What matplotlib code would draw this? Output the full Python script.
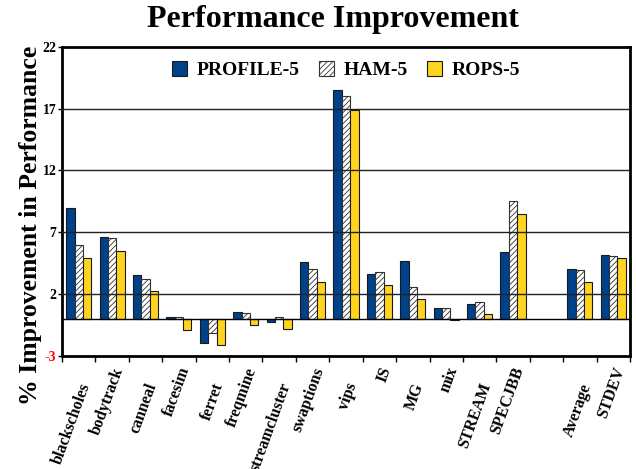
import numpy as np
import matplotlib.pyplot as plt
import matplotlib.transforms as mtransforms
from matplotlib.ticker import FixedLocator

plt.rcParams["font.family"] = "Liberation Serif"
plt.rcParams["font.weight"] = "bold"
plt.rcParams["hatch.linewidth"] = 0.6

CATEGORIES = [
    "blackscholes", "bodytrack", "canneal", "facesim", "ferret", "freqmine",
    "streamcluster", "swaptions", "vips", "IS", "MG", "mix", "STREAM",
    "SPECJBB", "", "Average", "STDEV",
]

PROFILE_5 = [9.0, 6.6, 3.5, 0.1, -1.95, 0.5, -0.25, 4.55, 18.55, 3.65, 4.65,
             0.9, 1.15, 5.4, np.nan, 4.0, 5.15]
HAM_5 = [5.95, 6.5, 3.2, 0.1, -1.2, 0.45, 0.15, 4.0, 18.05, 3.75, 2.6,
         0.9, 1.35, 9.5, np.nan, 3.95, 5.05]
ROPS_5 = [4.9, 5.45, 2.2, -0.9, -2.1, -0.55, -0.85, 2.95, 16.9, 2.7, 1.6,
          -0.1, 0.35, 8.45, np.nan, 2.95, 4.95]

Y_TICKS = [-3, 2, 7, 12, 17, 22]

BLUE = "#00428a"
YELLOW = "#ffd41e"

fig = plt.figure(figsize=(6.36, 4.69), dpi=100)
ax = fig.add_axes([0.0975, 0.2416, 0.893, 0.6582])

x = np.arange(len(CATEGORIES))
width = 0.25

ax.bar(x - width, PROFILE_5, width, color=BLUE, edgecolor="#1a1a1a",
       linewidth=0.8, label="PROFILE-5", zorder=2)
ax.bar(x, HAM_5, width, color="white", edgecolor="#333333", hatch="//////",
       linewidth=0.8, label="HAM-5", zorder=2)
ax.bar(x + width, ROPS_5, width, color=YELLOW, edgecolor="#1a1a1a",
       linewidth=0.8, label="ROPS-5", zorder=2)

# gridlines and zero line sit on top of the bars
for y in [2, 7, 12, 17]:
    ax.axhline(y, color="#222222", linewidth=1.0, zorder=3)
ax.axhline(0, color="black", linewidth=1.0, zorder=3)

ax.set_xlim(-0.5, len(CATEGORIES) - 0.5)
ax.set_ylim(-3, 22)
ax.set_yticks(Y_TICKS)
ax.set_yticklabels([str(v) for v in Y_TICKS], fontsize=10, fontweight="bold")
ax.get_yticklabels()[0].set_color("red")

# tick marks at group boundaries; category names drawn by hand, staggered
ax.xaxis.set_major_locator(FixedLocator(np.arange(len(CATEGORIES) + 1) - 0.5))
ax.set_xticklabels([])
ax.tick_params(axis="x", length=4, width=1, direction="out")
ax.tick_params(axis="y", length=3, width=1, direction="out", pad=1)

base = mtransforms.blended_transform_factory(ax.transData, ax.transAxes)
shown = 0
for i, name in enumerate(CATEGORIES):
    if not name:
        continue
    drop = 28 if shown % 2 == 0 else 12
    shift = mtransforms.ScaledTranslation(7 / 100, -drop / 100, fig.dpi_scale_trans)
    ax.text(i, 0, name, transform=base + shift, rotation=70,
            rotation_mode="anchor", ha="right", va="center",
            fontsize=11.5, fontweight="bold")
    shown += 1

for spine in ax.spines.values():
    spine.set_linewidth(2)

ax.set_ylabel("% Improvement in Performance", fontsize=18.5, fontweight="bold")
ax.yaxis.set_label_coords(-0.036, 0.423)
fig.suptitle("Performance Improvement", fontsize=23, fontweight="bold",
             x=0.523, y=0.99)

ax.legend(loc="upper center", ncol=3, frameon=False,
          bbox_to_anchor=(0.5, 1.01), handlelength=0.75, handleheight=0.75,
          columnspacing=1.0, handletextpad=0.5,
          prop={"weight": "bold", "size": 14})

fig.savefig("out.png", dpi=100)
